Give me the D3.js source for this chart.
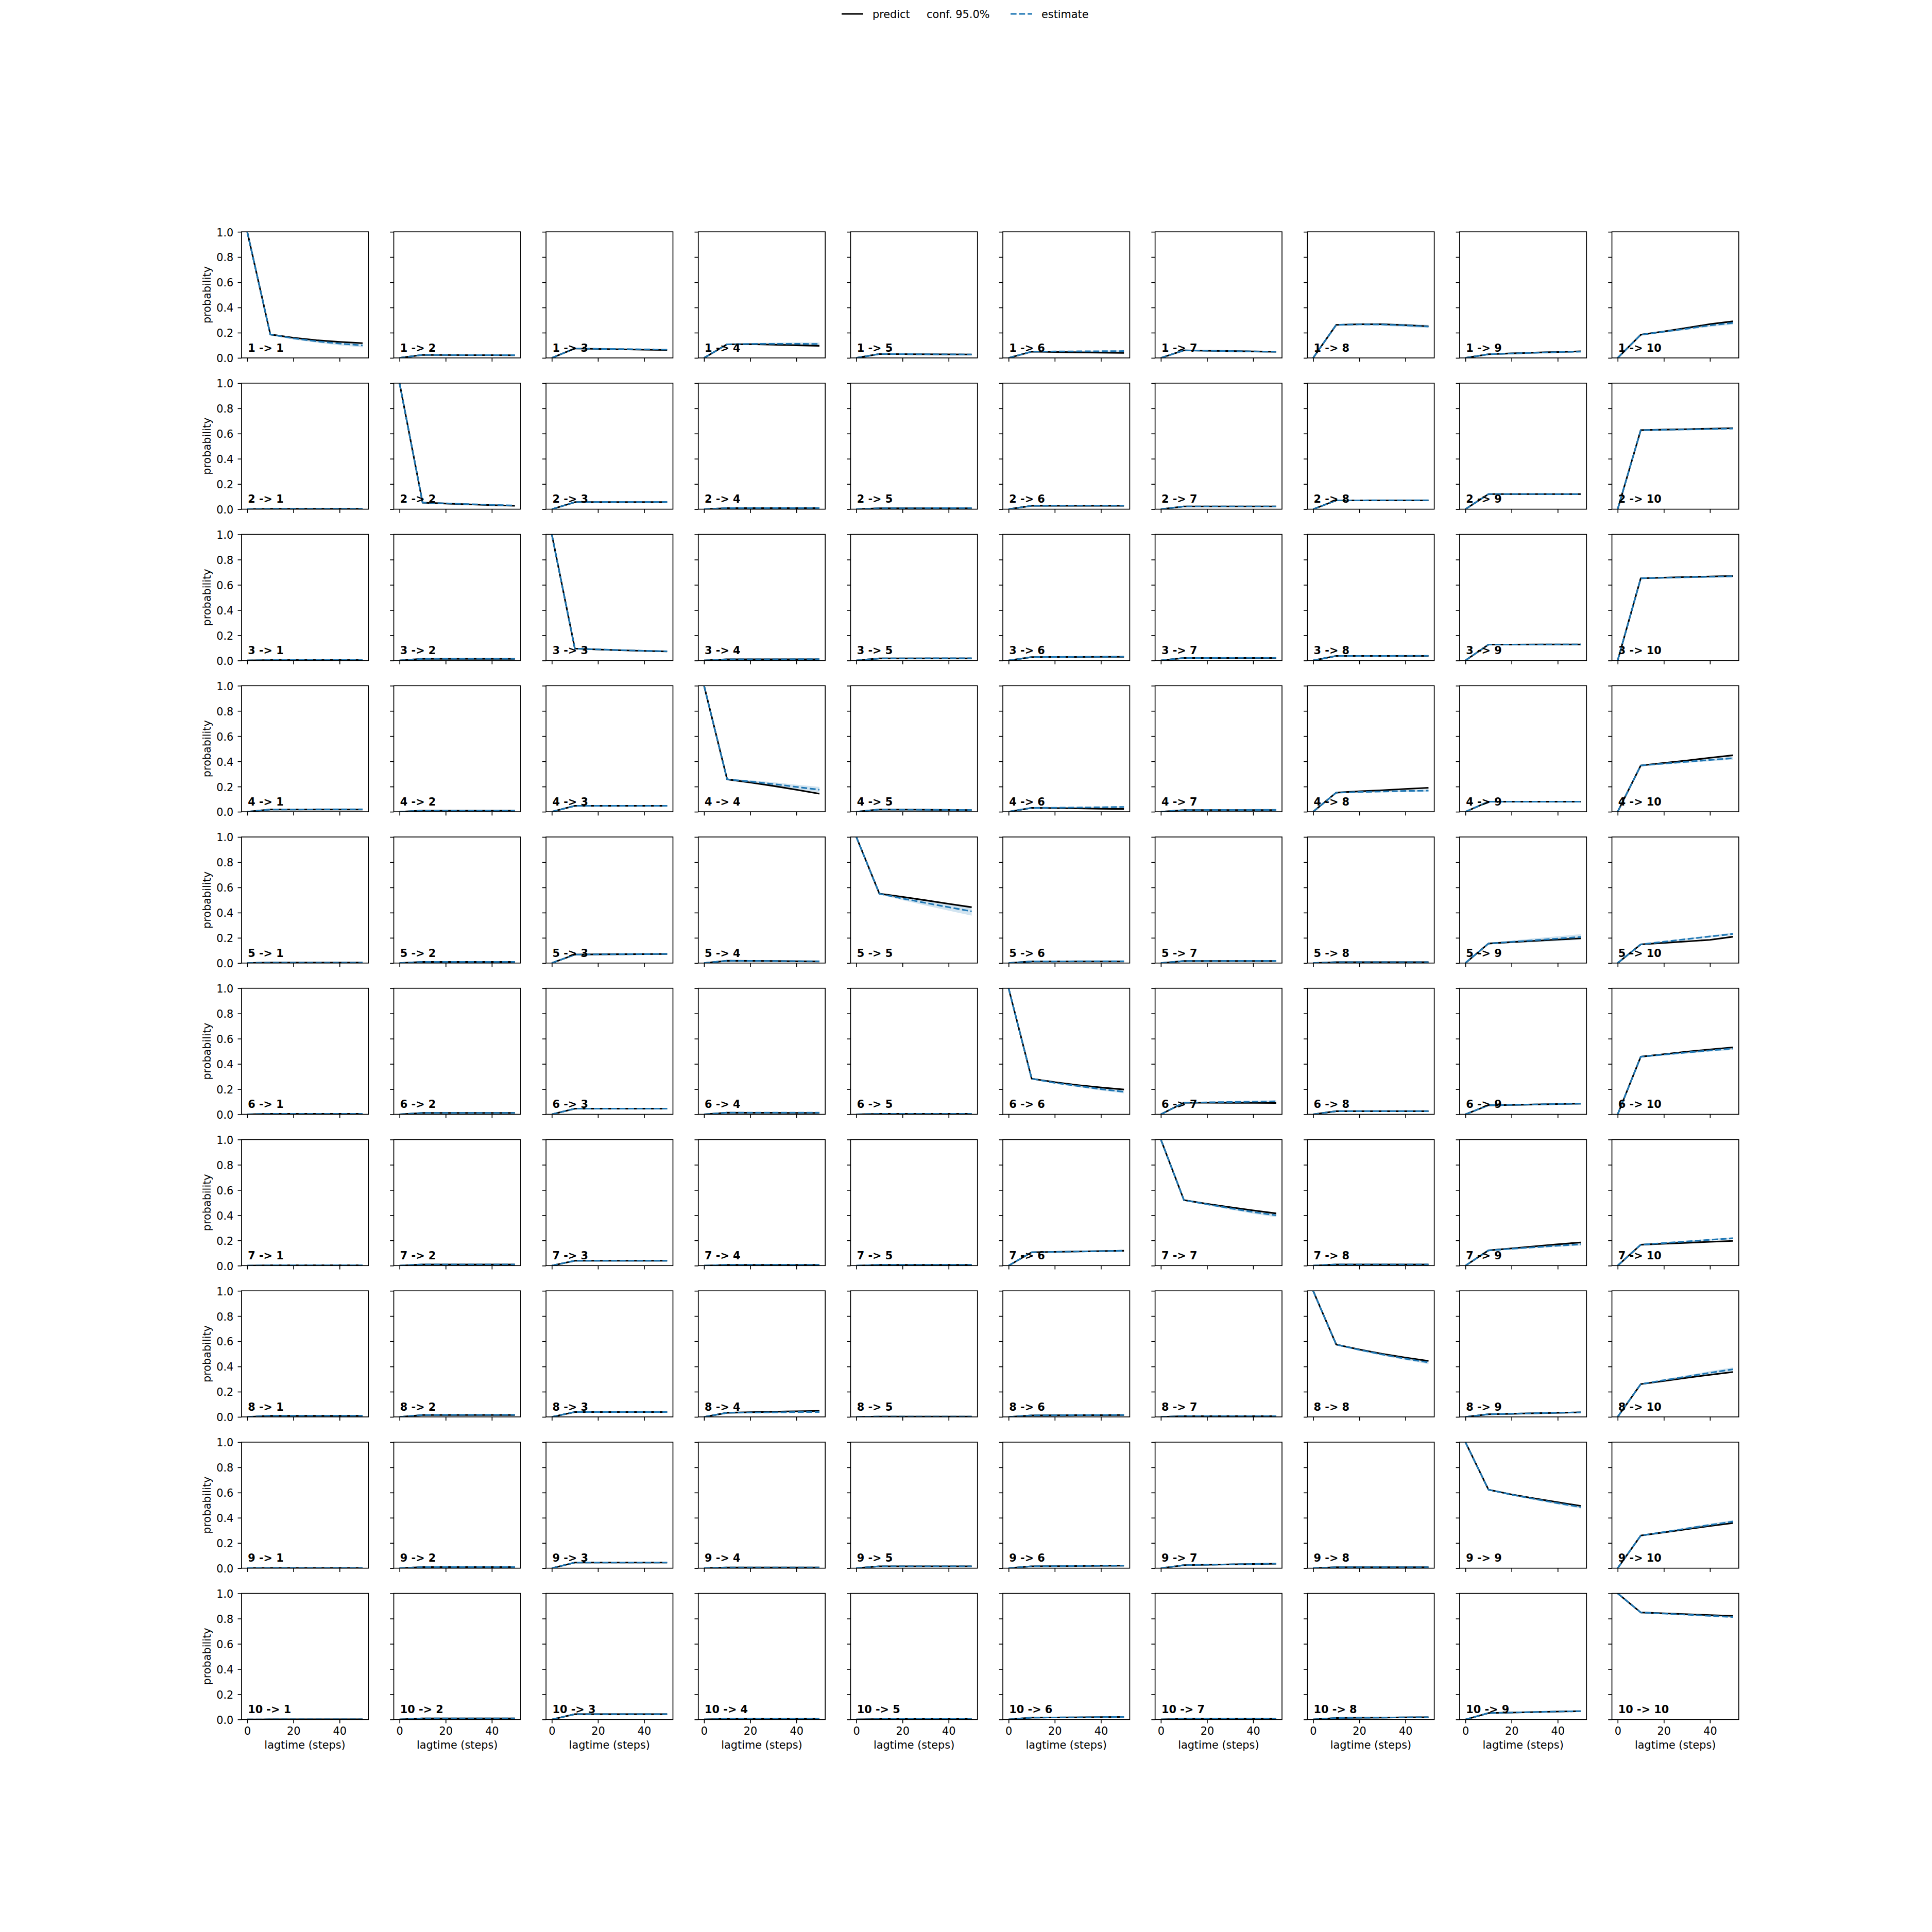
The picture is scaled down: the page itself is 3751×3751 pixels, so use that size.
<!DOCTYPE html>
<html><head><meta charset="utf-8">
<script src="https://cdn.jsdelivr.net/npm/d3@7"></script>
<style>body{margin:0;background:#fff}</style>
</head><body>
<svg id="chart" width="3751" height="3751"></svg>
<script>
const lagtimes = [0, 10, 20, 30, 40, 50];
const states = ["1","2","3","4","5","6","7","8","9","10"];
const yTicks = [0, 0.2, 0.4, 0.6, 0.8, 1.0];
const xTicks = [0, 20, 40];
const legendLabels = ["predict", "conf. 95.0%", "estimate"];

// predict[i][j] : transition i -> j, one value per lagtime
const predict = [
 [[1,.186,.160,.140,.127,.117],[0,.024,.023,.022,.022,.021],[0,.075,.071,.068,.065,.063],[0,.108,.109,.105,.100,.096],[0,.031,.030,.029,.028,.027],[0,.050,.047,.044,.042,.040],[0,.060,.057,.054,.051,.049],[0,.262,.267,.267,.260,.251],[0,.029,.036,.042,.047,.052],[0,.184,.210,.238,.268,.290]],
 [[0,.003,.003,.003,.003,.003],[1,.052,.045,.038,.032,.027],[0,.056,.056,.056,.056,.056],[0,.008,.008,.008,.008,.008],[0,.007,.007,.007,.007,.007],[0,.027,.027,.027,.027,.027],[0,.022,.022,.022,.022,.022],[0,.070,.070,.070,.070,.070],[0,.120,.120,.120,.120,.120],[0,.627,.631,.635,.639,.643]],
 [[0,.003,.003,.003,.003,.003],[0,.013,.013,.013,.013,.013],[1,.094,.087,.081,.076,.072],[0,.009,.009,.009,.009,.009],[0,.016,.016,.016,.016,.016],[0,.027,.028,.028,.029,.029],[0,.020,.020,.020,.020,.020],[0,.036,.036,.036,.036,.036],[0,.126,.126,.127,.127,.127],[0,.652,.657,.662,.666,.670]],
 [[0,.018,.018,.018,.018,.018],[0,.009,.009,.009,.009,.009],[0,.047,.047,.047,.047,.047],[1,.257,.232,.205,.175,.143],[0,.018,.017,.016,.014,.013],[0,.031,.029,.027,.024,.022],[0,.013,.013,.013,.013,.013],[0,.152,.162,.171,.181,.190],[0,.080,.080,.080,.080,.080],[0,.367,.387,.407,.428,.448]],
 [[0,.004,.004,.004,.004,.004],[0,.009,.009,.009,.009,.009],[0,.067,.069,.070,.071,.072],[0,.018,.017,.016,.014,.013],[1,.550,.525,.498,.470,.443],[0,.013,.013,.013,.013,.013],[0,.016,.016,.016,.016,.016],[0,.007,.007,.007,.007,.007],[0,.155,.166,.176,.186,.196],[0,.148,.160,.172,.184,.209]],
 [[0,.004,.004,.004,.004,.004],[0,.011,.011,.011,.011,.011],[0,.045,.045,.045,.045,.045],[0,.013,.012,.012,.011,.011],[0,.004,.004,.004,.004,.004],[1,.283,.255,.232,.213,.197],[0,.092,.092,.091,.091,.090],[0,.025,.025,.025,.025,.025],[0,.072,.075,.078,.082,.085],[0,.457,.477,.497,.515,.531]],
 [[0,.003,.003,.003,.003,.003],[0,.009,.009,.009,.009,.009],[0,.039,.039,.039,.039,.039],[0,.006,.006,.006,.006,.006],[0,.006,.006,.006,.006,.006],[0,.106,.109,.112,.115,.118],[1,.520,.490,.463,.438,.414],[0,.009,.009,.009,.009,.009],[0,.121,.137,.153,.169,.184],[0,.166,.174,.181,.189,.196]],
 [[0,.009,.009,.009,.009,.009],[0,.015,.015,.015,.015,.015],[0,.039,.039,.039,.039,.039],[0,.033,.037,.041,.045,.048],[0,.003,.003,.003,.003,.003],[0,.012,.013,.014,.014,.015],[0,.006,.006,.006,.006,.006],[1,.574,.535,.500,.470,.444],[0,.021,.025,.029,.033,.036],[0,.260,.285,.310,.334,.356]],
 [[0,.002,.002,.002,.002,.002],[0,.009,.009,.009,.009,.009],[0,.045,.045,.045,.045,.045],[0,.006,.006,.006,.006,.006],[0,.015,.015,.015,.015,.015],[0,.015,.016,.017,.019,.020],[0,.024,.027,.030,.033,.036],[0,.008,.008,.008,.008,.008],[1,.623,.585,.553,.523,.494],[0,.259,.284,.309,.335,.358]],
 [[0,.001,.001,.001,.001,.001],[0,.009,.009,.009,.009,.009],[0,.042,.042,.042,.042,.042],[0,.005,.005,.005,.005,.005],[0,.003,.003,.003,.003,.003],[0,.015,.016,.017,.019,.020],[0,.006,.006,.006,.006,.006],[0,.012,.014,.015,.017,.018],[0,.051,.055,.059,.063,.066],[1,.849,.842,.835,.828,.822]]
];

const estimate = [
 [[1,.186,.155,.132,.114,.099],[0,.024,.023,.022,.022,.022],[0,.075,.072,.070,.068,.066],[0,.108,.111,.112,.112,.110],[0,.031,.030,.029,.028,.027],[0,.050,.051,.052,.053,.054],[0,.060,.057,.054,.051,.049],[0,.262,.266,.265,.258,.249],[0,.029,.035,.041,.046,.050],[0,.184,.208,.232,.258,.278]],
 [[0,.003,.003,.003,.003,.003],[1,.052,.046,.040,.034,.029],[0,.056,.057,.057,.057,.057],[0,.008,.009,.009,.009,.009],[0,.007,.007,.008,.008,.008],[0,.027,.028,.028,.028,.028],[0,.022,.022,.022,.022,.022],[0,.070,.070,.071,.071,.071],[0,.120,.120,.120,.119,.119],[0,.627,.630,.633,.636,.640]],
 [[0,.003,.003,.003,.003,.003],[0,.013,.014,.014,.014,.014],[1,.094,.088,.082,.077,.073],[0,.009,.009,.009,.010,.010],[0,.016,.016,.017,.017,.017],[0,.027,.028,.029,.029,.030],[0,.020,.020,.021,.021,.021],[0,.036,.036,.036,.037,.037],[0,.126,.126,.126,.127,.127],[0,.652,.656,.660,.664,.668]],
 [[0,.018,.018,.019,.019,.019],[0,.009,.009,.009,.009,.009],[0,.047,.047,.047,.047,.047],[1,.257,.240,.220,.197,.175],[0,.018,.017,.016,.015,.014],[0,.031,.032,.034,.036,.038],[0,.013,.014,.014,.015,.015],[0,.152,.157,.161,.165,.168],[0,.080,.080,.080,.080,.080],[0,.367,.382,.397,.411,.425]],
 [[0,.004,.004,.004,.004,.004],[0,.009,.009,.009,.009,.009],[0,.067,.069,.070,.071,.072],[0,.018,.017,.016,.015,.014],[1,.550,.512,.477,.443,.410],[0,.013,.013,.014,.014,.014],[0,.016,.016,.017,.017,.017],[0,.007,.007,.007,.007,.007],[0,.155,.168,.181,.194,.207],[0,.148,.169,.190,.211,.231]],
 [[0,.004,.004,.004,.004,.004],[0,.011,.011,.011,.011,.011],[0,.045,.045,.045,.045,.045],[0,.013,.013,.013,.013,.013],[0,.004,.004,.004,.004,.004],[1,.283,.250,.225,.200,.179],[0,.092,.095,.098,.101,.103],[0,.025,.025,.025,.025,.025],[0,.072,.075,.078,.082,.085],[0,.457,.474,.491,.507,.522]],
 [[0,.003,.003,.003,.003,.003],[0,.009,.009,.009,.009,.009],[0,.039,.039,.039,.039,.039],[0,.006,.006,.006,.006,.006],[0,.006,.006,.006,.006,.006],[0,.106,.109,.112,.115,.118],[1,.520,.487,.455,.425,.399],[0,.009,.009,.009,.009,.009],[0,.121,.134,.146,.158,.169],[0,.166,.179,.192,.205,.217]],
 [[0,.009,.009,.009,.009,.009],[0,.015,.016,.016,.016,.016],[0,.039,.039,.039,.039,.039],[0,.033,.035,.036,.038,.039],[0,.003,.003,.003,.003,.003],[0,.012,.013,.014,.015,.015],[0,.006,.006,.006,.006,.006],[1,.574,.532,.495,.462,.432],[0,.021,.025,.029,.033,.036],[0,.260,.291,.320,.350,.378]],
 [[0,.002,.002,.002,.002,.002],[0,.009,.009,.009,.009,.009],[0,.045,.045,.045,.045,.045],[0,.006,.006,.006,.006,.006],[0,.015,.015,.015,.015,.015],[0,.015,.016,.017,.019,.020],[0,.024,.027,.030,.033,.036],[0,.008,.008,.008,.008,.008],[1,.623,.583,.549,.516,.485],[0,.259,.287,.315,.343,.370]],
 [[0,.001,.001,.001,.001,.001],[0,.009,.009,.009,.009,.009],[0,.042,.042,.042,.042,.042],[0,.005,.005,.005,.005,.005],[0,.003,.003,.003,.003,.003],[0,.015,.016,.017,.019,.020],[0,.006,.006,.006,.006,.006],[0,.012,.014,.015,.017,.018],[0,.051,.055,.059,.063,.066],[1,.849,.840,.831,.822,.813]]
];

// half-width of the 95% confidence band around the estimate
const confErr = [
 [[0,.004,.008,.011,.014,.016],[0,.002,.003,.003,.003,.003],[0,.003,.004,.005,.005,.006],[0,.004,.007,.009,.011,.012],[0,.002,.003,.003,.003,.003],[0,.003,.004,.005,.005,.006],[0,.003,.004,.004,.005,.005],[0,.005,.008,.010,.012,.013],[0,.002,.003,.004,.004,.005],[0,.005,.008,.010,.012,.014]],
 [[0,.001,.001,.001,.001,.001],[0,.003,.003,.004,.004,.004],[0,.002,.003,.003,.003,.003],[0,.001,.002,.002,.002,.002],[0,.001,.002,.002,.002,.002],[0,.002,.003,.003,.003,.003],[0,.002,.002,.002,.003,.003],[0,.003,.003,.004,.004,.004],[0,.003,.004,.004,.005,.005],[0,.004,.006,.007,.008,.009]],
 [[0,.001,.001,.001,.001,.001],[0,.002,.002,.002,.002,.002],[0,.003,.004,.004,.005,.005],[0,.001,.002,.002,.002,.002],[0,.002,.002,.002,.003,.003],[0,.002,.003,.003,.003,.003],[0,.002,.002,.002,.003,.003],[0,.002,.003,.003,.003,.003],[0,.003,.004,.004,.005,.005],[0,.004,.005,.006,.007,.008]],
 [[0,.002,.003,.003,.003,.003],[0,.001,.002,.002,.002,.002],[0,.002,.003,.003,.003,.003],[0,.005,.010,.014,.018,.022],[0,.002,.002,.002,.003,.003],[0,.003,.004,.004,.005,.005],[0,.002,.002,.003,.003,.003],[0,.004,.006,.008,.009,.010],[0,.003,.003,.004,.004,.004],[0,.005,.007,.009,.010,.012]],
 [[0,.001,.001,.001,.001,.001],[0,.001,.002,.002,.002,.002],[0,.003,.003,.004,.004,.004],[0,.002,.002,.002,.003,.003],[0,.006,.013,.020,.027,.034],[0,.002,.002,.002,.003,.003],[0,.002,.002,.002,.003,.003],[0,.001,.001,.001,.001,.001],[0,.005,.010,.015,.019,.022],[0,.004,.006,.008,.009,.010]],
 [[0,.001,.001,.001,.001,.001],[0,.002,.002,.002,.002,.002],[0,.002,.003,.003,.003,.003],[0,.002,.002,.002,.002,.002],[0,.001,.001,.001,.001,.001],[0,.004,.007,.009,.011,.013],[0,.003,.005,.006,.007,.008],[0,.002,.002,.002,.003,.003],[0,.003,.004,.004,.005,.005],[0,.005,.007,.009,.010,.011]],
 [[0,.001,.001,.001,.001,.001],[0,.002,.002,.002,.002,.002],[0,.002,.003,.003,.003,.003],[0,.001,.001,.001,.001,.001],[0,.001,.001,.001,.001,.001],[0,.003,.004,.005,.006,.006],[0,.005,.008,.011,.013,.015],[0,.001,.002,.002,.002,.002],[0,.004,.006,.008,.009,.010],[0,.004,.005,.006,.007,.008]],
 [[0,.002,.002,.002,.002,.002],[0,.002,.003,.003,.003,.003],[0,.002,.003,.003,.003,.003],[0,.002,.003,.003,.004,.004],[0,.001,.001,.001,.001,.001],[0,.002,.002,.003,.003,.003],[0,.001,.001,.001,.001,.001],[0,.004,.007,.009,.011,.013],[0,.002,.002,.003,.003,.003],[0,.005,.008,.011,.013,.015]],
 [[0,.001,.001,.001,.001,.001],[0,.002,.002,.002,.002,.002],[0,.002,.003,.003,.003,.003],[0,.001,.001,.001,.001,.001],[0,.002,.002,.002,.002,.002],[0,.002,.002,.003,.003,.003],[0,.002,.003,.003,.003,.003],[0,.001,.001,.001,.001,.001],[0,.004,.006,.008,.010,.012],[0,.004,.006,.008,.010,.012]],
 [[0,.001,.001,.001,.001,.001],[0,.002,.002,.002,.002,.002],[0,.002,.003,.003,.003,.003],[0,.001,.001,.001,.001,.001],[0,.001,.001,.001,.001,.001],[0,.002,.002,.003,.003,.003],[0,.001,.001,.001,.001,.001],[0,.002,.002,.002,.003,.003],[0,.003,.003,.004,.004,.004],[0,.003,.004,.005,.006,.007]]
];

const W = 3751;
const FONT = "DejaVu Sans, sans-serif";
const FS = 20.8;
const C0 = "#1f77b4";
const LW = 3.1;
const DASH = "11.6,5";
const SPINE = 1.67;
const n = states.length;
const figLeft = 0.125 * W, figRight = 0.9 * W, figTop = 0.12 * W, figBottom = 0.89 * W;
const pw = (figRight - figLeft) / (n + (n - 1) * 0.2);
const ph = (figBottom - figTop) / (n + (n - 1) * 0.2);
const gx = pw * 0.2, gy = ph * 0.2;

const svg = d3.select("#chart").attr("font-family", FONT);
svg.append("rect").attr("width", W).attr("height", W).attr("fill", "#fff");

const x = d3.scaleLinear().domain([-2.5, 52.5]).range([0, pw]);
const y = d3.scaleLinear().domain([0, 1]).range([ph, 0]);
const TL = 7.3, TPAD = 8.3;

const lineGen = d3.line().x((d, k) => x(lagtimes[k])).y(d => y(d));

for (let i = 0; i < n; i++) {
  for (let j = 0; j < n; j++) {
    const g = svg.append("g").attr("transform", `translate(${figLeft + j * (pw + gx)},${figTop + i * (ph + gy)})`);
    const cid = `clip-${i}-${j}`;
    g.append("clipPath").attr("id", cid).append("rect").attr("width", pw).attr("height", ph);
    const plot = g.append("g").attr("clip-path", `url(#${cid})`);
    const est = estimate[i][j], err = confErr[i][j];
    const area = d3.area()
      .x((d, k) => x(lagtimes[k]))
      .y0((d, k) => y(est[k] - err[k]))
      .y1((d, k) => y(est[k] + err[k]));
    plot.append("path").datum(est).attr("d", area).attr("fill", C0).attr("fill-opacity", 0.2);
    plot.append("path").datum(predict[i][j]).attr("d", lineGen)
      .attr("fill", "none").attr("stroke", "#000").attr("stroke-width", LW).attr("stroke-linejoin", "round");
    plot.append("path").datum(est).attr("d", lineGen)
      .attr("fill", "none").attr("stroke", C0).attr("stroke-width", LW)
      .attr("stroke-dasharray", DASH).attr("stroke-linejoin", "round");

    // y axis
    const ya = g.append("g").call(d3.axisLeft(y).tickValues(yTicks).tickSize(TL).tickPadding(TPAD)
      .tickFormat(j === 0 ? d3.format(".1f") : () => ""));
    ya.select(".domain").remove();
    ya.selectAll(".tick line").attr("stroke", "#000").attr("stroke-width", SPINE);
    ya.selectAll(".tick text").attr("font-family", FONT).attr("font-size", FS).attr("fill", "#000").attr("dy", "0.38em");
    // x axis
    const xa = g.append("g").attr("transform", `translate(0,${ph})`)
      .call(d3.axisBottom(x).tickValues(xTicks).tickSize(TL).tickPadding(TPAD)
      .tickFormat(i === n - 1 ? d3.format("d") : () => ""));
    xa.select(".domain").remove();
    xa.selectAll(".tick line").attr("stroke", "#000").attr("stroke-width", SPINE);
    xa.selectAll(".tick text").attr("font-family", FONT).attr("font-size", FS).attr("fill", "#000").attr("dy", "0.69em");

    g.append("rect").attr("width", pw).attr("height", ph).attr("fill", "none")
      .attr("stroke", "#000").attr("stroke-width", SPINE);

    g.append("text").attr("x", pw * 0.05).attr("y", ph * 0.95)
      .attr("font-size", FS).attr("font-weight", "bold").attr("fill", "#000")
      .text(`${states[i]} -> ${states[j]}`);

    if (j === 0) {
      g.append("text").attr("transform", `translate(-60,${ph / 2}) rotate(-90)`)
        .attr("text-anchor", "middle").attr("font-size", FS).attr("fill", "#000").text("probability");
    }
    if (i === n - 1) {
      g.append("text").attr("x", pw / 2).attr("y", ph + 57)
        .attr("text-anchor", "middle").attr("font-size", FS).attr("fill", "#000").text("lagtime (steps)");
    }
  }
}

// legend
const lg = svg.append("g").attr("font-size", FS).attr("fill", "#000");
lg.append("line").attr("x1", 1634).attr("x2", 1676).attr("y1", 27).attr("y2", 27)
  .attr("stroke", "#000").attr("stroke-width", LW);
lg.append("text").attr("x", 1694).attr("y", 34.5).text(legendLabels[0]);
lg.append("text").attr("x", 1799).attr("y", 34.5).text(legendLabels[1]);
lg.append("line").attr("x1", 1962).attr("x2", 2004).attr("y1", 27).attr("y2", 27)
  .attr("stroke", C0).attr("stroke-width", LW).attr("stroke-dasharray", DASH);
lg.append("text").attr("x", 2022).attr("y", 34.5).text(legendLabels[2]);
</script>
</body></html>
